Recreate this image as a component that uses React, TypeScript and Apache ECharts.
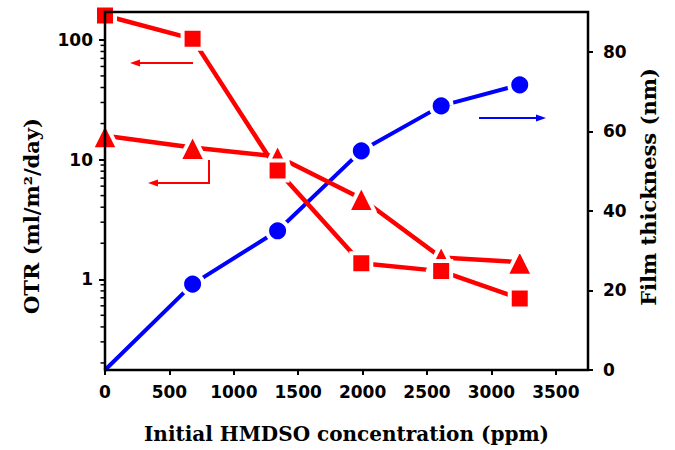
import React, { useEffect, useRef } from 'react';
import * as echarts from 'echarts';

// Data
const concentration = [0, 680, 1340, 1990, 2610, 3220];
const otrSquare = [160, 102, 8.1, 1.36, 1.17, 0.69];
const otrTriangle = [15.8, 12.6, 10.6, 4.73, 1.52, 1.39];
const thickness = [0, 21.6, 35.0, 55.1, 66.4, 71.7];
const logMinorTicks = [0.2, 0.3, 0.4, 0.5, 0.6, 0.7, 0.8, 0.9, 2, 3, 4, 5, 6, 7, 8, 9, 20, 30, 40, 50, 60, 70, 80, 90];

const RED = '#ff0000';
const BLUE = '#0000ff';
const SANS = 'DejaVu Sans';
const SERIF = 'DejaVu Serif';

const GRID = { left: 105, right: 87, top: 12, bottom: 80 };
const W = 675;
const H = 450;

export default function App() {
  const ref = useRef<HTMLDivElement>(null);
  useEffect(() => {
    const chart = echarts.init(ref.current!, null, { renderer: 'svg' });
    const pair = (ys: number[]) => concentration.map((x, i) => [x, ys[i]]);
    const tickLabel = { fontFamily: SANS, fontWeight: 'bold', fontSize: 17, color: '#000' };
    const titleStyle = { fontFamily: SERIF, fontWeight: 'bold', fontSize: 21, color: '#000' };
    const option: any = {
      animation: false,
      grid: {
        ...GRID,
        containLabel: false, outerBoundsMode: 'none',
        show: true, borderColor: '#000', borderWidth: 2,
      },
      xAxis: {
        type: 'value', min: 0, max: 3750, interval: 500,
        name: 'Initial HMDSO concentration (ppm)',
        nameLocation: 'middle', nameGap: 54,
        nameTextStyle: { ...titleStyle, fontSize: 20 },
        axisLine: { show: true, onZero: false, lineStyle: { color: '#000', width: 2 } },
        axisTick: { show: true, inside: false, length: 5, lineStyle: { color: '#000', width: 2 } },
        axisLabel: {
          ...tickLabel, margin: 13,
          showMaxLabel: false,
          formatter: (v: number) => (v % 500 === 0 ? String(v) : ''),
        },
        splitLine: { show: false },
      },
      yAxis: [
        {
          type: 'log', min: 0.1746, max: 171, logBase: 10,
          position: 'left',
          name: 'OTR (ml/m²/day)',
          nameLocation: 'middle', nameGap: 63, nameRotate: 90,
          nameTextStyle: { ...titleStyle, padding: [0, 50, 0, 0] },
          axisLine: { show: true, lineStyle: { color: '#000', width: 2 } },
          axisTick: { show: true, inside: false, length: 6, lineStyle: { color: '#000', width: 2 } },
          axisLabel: {
            ...tickLabel, margin: 12,
            showMinLabel: false, showMaxLabel: false,
            formatter: (v: number) => {
              const l = Math.log10(v);
              return Math.abs(l - Math.round(l)) < 1e-6 ? String(Math.round(v)) : '';
            },
          },
          splitLine: { show: false },
        },
        {
          type: 'value', min: 0, max: 90, interval: 20,
          position: 'right',
          name: 'Film thickness (nm)',
          nameLocation: 'middle', nameGap: 50, nameRotate: 90,
          nameTextStyle: { ...titleStyle, padding: [0, 0, 0, 8] },
          axisLine: { show: true, lineStyle: { color: '#000', width: 2 } },
          axisTick: { show: true, inside: false, length: 5, lineStyle: { color: '#000', width: 2 } },
          axisLabel: {
            ...tickLabel, margin: 15,
            showMaxLabel: false,
            formatter: (v: number) => (v % 20 === 0 ? String(v) : ''),
          },
          splitLine: { show: false },
        },
      ],
      series: [
        {
          type: 'custom', xAxisIndex: 0, yAxisIndex: 0, silent: true, clip: false, z: 20,
          data: logMinorTicks.map((v) => [0, v]),
          renderItem: (params: any, api: any) => {
            const p = api.coord([0, api.value(1)]);
            return {
              type: 'line',
              shape: { x1: p[0] - 4.5, y1: p[1], x2: p[0], y2: p[1] },
              style: { stroke: '#000', lineWidth: 1.5 },
            };
          },
        },
        {
          type: 'line', yAxisIndex: 1,
          data: concentration.map((x, i) => (x === 0 ? { value: [x, thickness[i]], symbol: 'none' } : [x, thickness[i]])),
          symbol: 'circle', symbolSize: 21,
          lineStyle: { color: BLUE, width: 4 },
          itemStyle: { color: BLUE, borderColor: '#fff', borderWidth: 4 },
        },
        {
          type: 'line', yAxisIndex: 0,
          data: pair(otrTriangle),
          symbol: 'triangle', symbolSize: 27,
          lineStyle: { color: RED, width: 4.5 },
          itemStyle: { color: RED, borderColor: '#fff', borderWidth: 4, borderJoin: 'round' },
        },
        {
          type: 'line', yAxisIndex: 0,
          data: pair(otrSquare),
          symbol: 'rect', symbolSize: 20,
          lineStyle: { color: RED, width: 4.5 },
          itemStyle: { color: RED, borderColor: '#fff', borderWidth: 4 },
        },
      ],
      graphic: [
        {
          type: 'rect', z: 100, silent: true,
          shape: { x: GRID.left, y: GRID.top, width: W - GRID.left - GRID.right, height: H - GRID.top - GRID.bottom },
          style: { fill: 'none', stroke: '#000', lineWidth: 2.5 },
        },
        { type: 'line', shape: { x1: 193, y1: 63, x2: 138, y2: 63 }, style: { stroke: RED, lineWidth: 2 } },
        { type: 'polygon', shape: { points: [[130, 63], [140, 59.5], [140, 66.5]] }, style: { fill: RED } },
        { type: 'polyline', shape: { points: [[209, 160], [209, 183], [156, 183]] }, style: { stroke: RED, lineWidth: 2, fill: null } },
        { type: 'polygon', shape: { points: [[148, 183], [158, 179.5], [158, 186.5]] }, style: { fill: RED } },
        { type: 'line', shape: { x1: 479, y1: 118, x2: 537, y2: 118 }, style: { stroke: BLUE, lineWidth: 2 } },
        { type: 'polygon', shape: { points: [[546, 118], [536, 114.5], [536, 121.5]] }, style: { fill: BLUE } },
      ],
    };
    chart.setOption(option);
    return () => chart.dispose();
  }, []);
  return <div ref={ref} style={{ position: 'fixed', left: 0, top: 0, width: W, height: H, background: '#fff' }} />;
}
